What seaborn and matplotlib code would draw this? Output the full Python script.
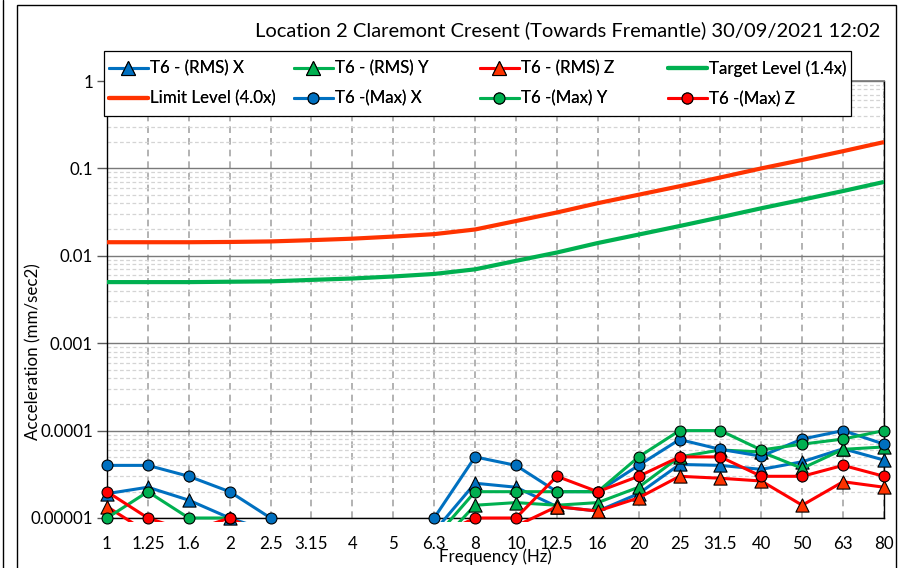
import numpy as np
import pandas as pd
import matplotlib
matplotlib.use("Agg")
import matplotlib.pyplot as plt
import seaborn as sns
from matplotlib.lines import Line2D
from matplotlib.patches import Rectangle
from matplotlib.transforms import Bbox, TransformedBbox
from matplotlib.ticker import LogLocator, FixedLocator, NullFormatter

# ---- data -------------------------------------------------------------
freq_labels = ["1", "1.25", "1.6", "2", "2.5", "3.15", "4", "5", "6.3", "8",
               "10", "12.5", "16", "20", "25", "31.5", "40", "50", "63", "80"]
nan = np.nan

rms_x = [1.9e-5, 2.25e-5, 1.6e-5, 1.0e-5, 7e-6, nan, nan, nan, 7e-6, 2.5e-5,
         2.25e-5, 1.35e-5, 1.2e-5, 1.9e-5, 4.1e-5, 4.0e-5, 3.6e-5, 4.4e-5, 6.2e-5, 4.6e-5]
rms_y = [6e-6, 8e-6, 6e-6, 6e-6, 5e-6, nan, nan, nan, 4.4e-6, 1.4e-5,
         1.5e-5, 1.4e-5, 1.5e-5, 2.25e-5, 5e-5, 6e-5, 5.7e-5, 3.7e-5, 6.1e-5, 6.5e-5]
rms_z = [1.35e-5, 6.8e-6, 5e-6, 6e-6, 5e-6, nan, nan, nan, 4e-6, 6e-6,
         8.1e-6, 1.35e-5, 1.2e-5, 1.7e-5, 3.0e-5, 2.85e-5, 2.65e-5, 1.4e-5, 2.6e-5, 2.25e-5]
max_x = [4e-5, 4e-5, 3e-5, 2e-5, 1e-5, nan, nan, nan, 1e-5, 5e-5,
         4e-5, 2e-5, 2e-5, 4e-5, 7.9e-5, 6.1e-5, 5.1e-5, 8e-5, 1e-4, 7e-5]
max_y = [1e-5, 2e-5, 1e-5, 1e-5, 6e-6, nan, nan, nan, 5.8e-6, 2e-5,
         2e-5, 2e-5, 2e-5, 5e-5, 1e-4, 1e-4, 6e-5, 7e-5, 8e-5, 1e-4]
max_z = [2e-5, 1e-5, 7e-6, 1e-5, 6e-6, nan, nan, nan, 6e-6, 1e-5,
         1e-5, 3e-5, 2e-5, 3e-5, 5e-5, 5e-5, 3e-5, 3e-5, 4e-5, 3e-5]
target = [0.005, 0.005, 0.005, 0.00505, 0.0051, 0.0053, 0.0055, 0.0058, 0.0062, 0.007,
          0.00875, 0.0109, 0.014, 0.0175, 0.0219, 0.0276, 0.035, 0.0438, 0.0551, 0.07]
limit = [0.0143, 0.0143, 0.0143, 0.0144, 0.0146, 0.0151, 0.0157, 0.0166, 0.0177, 0.02,
         0.025, 0.0313, 0.04, 0.05, 0.0625, 0.0788, 0.1, 0.125, 0.1575, 0.2]

y_ticks = [1e-5, 1e-4, 1e-3, 1e-2, 1e-1, 1]
y_tick_labels = ["0.00001", "0.0001", "0.001", "0.01", "0.1", "1"]

title = "Location 2 Claremont Cresent (Towards Fremantle) 30/09/2021 12:02"

# ---- style ------------------------------------------------------------
BLUE, GREEN, RED, ORANGE = "#0070C0", "#00B050", "#FF0000", "#FF3300"
sns.set_theme(style="white")
plt.rcParams["font.family"] = ["Lato", "DejaVu Sans"]
plt.rcParams["text.color"] = "black"
FS = 12.2

W, H = 900, 568
fig = plt.figure(figsize=(W / 100, H / 100), dpi=100)
ax = fig.add_axes([107 / W, 50 / H, 777 / W, 437 / H])
ax.set_yscale("log")
ax.set_xlim(0, len(freq_labels) - 1)
ax.set_ylim(1e-5, 1)
ax.set_axisbelow(True)

pos = np.arange(len(freq_labels))

# clip region reaching a few pixels below the bottom axis line
clip_bbox = TransformedBbox(Bbox.from_extents(0, -0.009, 1, 1), ax.transAxes)


def draw_series(vals, line_color, z, lw=2.2, marker=None, fill=None, size=None):
    v = np.asarray(vals, dtype=float)
    seg = np.cumsum(np.isnan(v))
    df = pd.DataFrame({"pos": pos, "val": v, "seg": seg}).dropna()
    n0 = len(ax.lines)
    sns.lineplot(data=df, x="pos", y="val", units="seg", estimator=None,
                 color=line_color, lw=lw, ax=ax, legend=False, sort=False,
                 zorder=z, solid_capstyle="butt", solid_joinstyle="round")
    for ln in ax.lines[n0:]:
        ln.set_clip_path(None)
        ln.set_clip_box(clip_bbox)
    if marker is not None:
        dm = df[(df["val"] >= 0.999e-5) & (df["val"] <= 1.0)]
        sns.scatterplot(data=dm, x="pos", y="val", marker=marker, s=size,
                        color=fill, edgecolor="black", linewidth=0.8, ax=ax,
                        legend=False, zorder=z + 0.5, clip_on=False)


# Excel-like drawing order: RMS series, guide levels, then peak series
draw_series(rms_x, BLUE, 3, marker="^", fill=BLUE, size=90)
draw_series(rms_y, GREEN, 4, marker="^", fill=GREEN, size=90)
draw_series(rms_z, RED, 5, marker="^", fill=ORANGE, size=90)
draw_series(target, GREEN, 6, lw=3.0)
draw_series(limit, ORANGE, 7, lw=3.0)
draw_series(max_x, BLUE, 8, marker="o", fill=BLUE, size=62)
draw_series(max_y, GREEN, 9, marker="o", fill=GREEN, size=62)
draw_series(max_z, RED, 10, marker="o", fill=RED, size=62)

ax.set_xlabel("")
ax.set_ylabel("")

# ---- axes, ticks and grid ----------------------------------------------
ax.set_xticks(pos, freq_labels)
ax.yaxis.set_major_locator(FixedLocator(y_ticks))
ax.set_yticklabels(y_tick_labels)
ax.yaxis.set_minor_locator(LogLocator(base=10, subs=np.arange(2, 10)))
ax.yaxis.set_minor_formatter(NullFormatter())

ax.grid(False)
ax.yaxis.grid(True, which="major", color="#7a7a7a", lw=1.0, ls="-")
ax.yaxis.grid(True, which="minor", color="#d4d4d4", lw=0.9, ls=(0, (3, 2)))
ax.xaxis.grid(True, which="major", color="#a6a6a6", lw=1.2, ls=(0, (4, 3)))

ax.tick_params(axis="x", which="major", length=6, width=1.2, color="#a6a6a6",
               direction="out", pad=7, labelsize=FS, labelcolor="black")
ax.tick_params(axis="y", which="major", length=7, width=1.0, color="#595959",
               direction="out", pad=3, labelsize=FS, labelcolor="black", left=True)
ax.tick_params(axis="y", which="minor", length=0)

for side in ("left", "bottom", "right"):
    ax.spines[side].set_color("black")
    ax.spines[side].set_linewidth(1.0)
    ax.spines[side].set_visible(True)
ax.spines["top"].set_color("#7a7a7a")
ax.spines["top"].set_visible(True)

# ---- texts -------------------------------------------------------------
fig.text(880 / W, 1 - 30 / H, title, ha="right", va="center", fontsize=14.5)
fig.text(495 / W, 1 - 557 / H, "Frequency (Hz)", ha="center", va="center", fontsize=FS)
fig.text(33 / W, 1 - 352 / H, "Acceleration (mm/sec2)", ha="center", va="center",
         rotation=90, fontsize=FS)

# ---- legend (four columns inside one frame) ------------------------------
def handle(color, marker=None, fill=None, ms=None, lw=2.2):
    return Line2D([], [], color=color, lw=lw, marker=marker, markersize=ms,
                  markerfacecolor=fill, markeredgecolor="black", markeredgewidth=0.8)


columns = [
    [(handle(BLUE, "^", BLUE, 9.5), "T6 - (RMS) X"), (handle(ORANGE, lw=3.0), "Limit Level (4.0x)")],
    [(handle(GREEN, "^", GREEN, 9.5), "T6 - (RMS) Y"), (handle(BLUE, "o", BLUE, 7.9), "T6 -(Max) X")],
    [(handle(RED, "^", ORANGE, 9.5), "T6 - (RMS) Z"), (handle(GREEN, "o", GREEN, 7.9), "T6 -(Max) Y")],
    [(handle(GREEN, lw=3.0), "Target Level (1.4x)"), (handle(RED, "o", RED, 7.9), "T6 -(Max) Z")],
]
col_x = [109, 294, 480, 668]
for cx, entries in zip(col_x, columns):
    leg = fig.legend([e[0] for e in entries], [e[1] for e in entries],
                     loc="upper left", bbox_to_anchor=(cx / W, 1 - 60.5 / H),
                     bbox_transform=fig.transFigure, frameon=False, fontsize=FS,
                     handlelength=2.3, handletextpad=0.12, labelspacing=0.82,
                     borderpad=0, borderaxespad=0, numpoints=1)
    leg.set_zorder(20)
    fig.add_artist(leg)

fig.add_artist(Rectangle((104 / W, 1 - 116 / H), (851 - 104) / W, 65 / H,
                         transform=fig.transFigure, facecolor="white",
                         edgecolor="black", lw=0.9, zorder=15))

# chart area border
fig.add_artist(Rectangle((17 / W, -0.02), (896 - 17) / W, 1.02 - 5 / H,
                         transform=fig.transFigure, fill=False,
                         edgecolor="black", lw=1.0, zorder=30))
fig.add_artist(Line2D([3 / W, 3 / W], [0, 1], transform=fig.transFigure,
                      color="black", lw=1.0))

fig.savefig("out.png", dpi=100)
